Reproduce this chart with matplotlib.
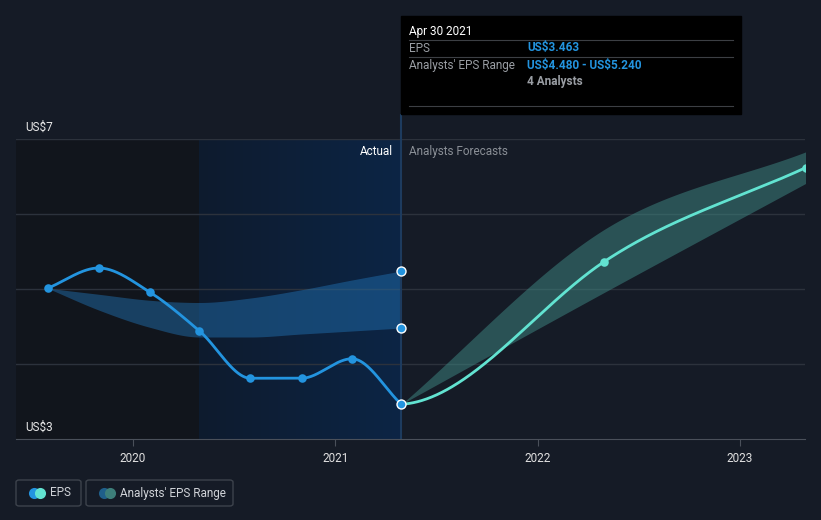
import numpy as np
import pandas as pd
import matplotlib
matplotlib.use("Agg")
import matplotlib.pyplot as plt
from matplotlib.patches import FancyBboxPatch, Rectangle

plt.rcParams['font.family'] = ['Roboto', 'DejaVu Sans']

# data
eps_dates = ["2019-07-31", "2019-10-31", "2020-01-31", "2020-04-30",
             "2020-07-31", "2020-10-31", "2021-01-31", "2021-04-30"]
eps_values = [5.01, 5.28, 4.96, 4.44, 3.81, 3.81, 4.07, 3.463]

past_range_high = [5.01, 4.93, 4.85, 4.82, 4.88, 4.99, 5.12, 5.24]
past_range_low = [5.01, 4.72, 4.49, 4.36, 4.36, 4.40, 4.44, 4.48]

fc_dates = ["2021-04-30", "2022-04-30", "2023-04-30"]
fc_values = [3.463, 5.36, 6.62]
fc_high = [3.463, 5.79, 6.83]
fc_low = [3.463, 4.95, 6.41]

ytick_labels = ["US$3", "US$7"]
xtick_years = [2020, 2021, 2022, 2023]

BG = "#151b26"
BLUE = "#2394df"
TEAL = "#62e3d1"


def to_year(dates):
    d = pd.to_datetime(dates)
    return np.array(d.year + (d.dayofyear - 1) / 365.0)


def hermite(x, y, m, n=200):
    xs, ys = [], []
    for i in range(len(x) - 1):
        h = x[i + 1] - x[i]
        t = np.linspace(0, 1, n)
        h00 = 2 * t**3 - 3 * t**2 + 1
        h10 = t**3 - 2 * t**2 + t
        h01 = -2 * t**3 + 3 * t**2
        h11 = t**3 - t**2
        xs.append(x[i] + t * h)
        ys.append(h00 * y[i] + h10 * h * m[i] + h01 * y[i + 1] + h11 * h * m[i + 1])
    return np.concatenate(xs), np.concatenate(ys)


def monotone(x, y, n=200):
    # monotone cubic, roughly what the web chart uses
    x = np.asarray(x, float)
    y = np.asarray(y, float)
    h = np.diff(x)
    s = np.diff(y) / h
    m = np.zeros_like(y)
    m[0], m[-1] = s[0], s[-1]
    for i in range(1, len(y) - 1):
        if s[i - 1] * s[i] <= 0:
            m[i] = 0
        else:
            m[i] = (s[i - 1] * h[i] + s[i] * h[i - 1]) / (h[i - 1] + h[i])
            lim = 3 * min(abs(s[i - 1]), abs(s[i]))
            m[i] = np.sign(m[i]) * min(abs(m[i]), lim)
    return hermite(x, y, m, n)


ex = to_year(eps_dates)
fx = to_year(fc_dates)
now = ex[-1]

fig = plt.figure(figsize=(8.21, 5.2), dpi=100, facecolor=BG)
ax = fig.add_axes([16 / 821, 81 / 520, 789 / 821, 300 / 520])
ax.set_facecolor(BG)
xmin, xmax = 2019.422, 2023.321
ax.set_xlim(xmin, xmax)
ax.set_ylim(3, 7)

# shaded past regions
ax.add_patch(Rectangle((xmin, 3), ex[3] - xmin, 4, color="#11151c", zorder=0, lw=0))
grad = np.linspace(0, 1, 256).reshape(1, -1)
cmap = matplotlib.colors.LinearSegmentedColormap.from_list("g", ["#0e1b2e", "#0c2545"])
ax.imshow(grad, extent=(ex[3], now, 3, 7), aspect="auto", cmap=cmap, zorder=0.5)

for v in [4, 5, 6, 7]:
    ax.axhline(v, color="#2c323c", lw=1, zorder=1)

# past range band
bx, bh = monotone(ex, past_range_high)
_, bl = monotone(ex, past_range_low)
ax.fill_between(bx, bl, bh, color="#2275b8", alpha=0.45, lw=0, zorder=2)

# forecast band
fbx, fbh = monotone(fx, fc_high)
_, fbl = monotone(fx, fc_low)
ax.fill_between(fbx, fbl, fbh, color="#3f8a85", alpha=0.5, lw=0, zorder=2)

# now line
ax.plot([now, now], [3, 7.32], color="#1d3b5e", lw=1.5, zorder=2, clip_on=False)

# lines
lx, ly = monotone(ex, eps_values)
ax.plot(lx, ly, color=BLUE, lw=2.0, zorder=4)
fxx, fyy = hermite(fx, fc_values, [0.15, 1.8, 1.25])
ax.plot(fxx, fyy, color=TEAL, lw=2.0, zorder=4)
ax.scatter(ex[:-1], eps_values[:-1], s=38, color=BLUE, zorder=5, lw=0)
ax.scatter(fx[1:], fc_values[1:], s=38, color=TEAL, zorder=5, lw=0)
ax.scatter([now, now, now], [eps_values[-1], past_range_low[-1], past_range_high[-1]],
           s=42, color=BLUE, edgecolor="white", lw=1, zorder=6)

for s in ["top", "right", "left"]:
    ax.spines[s].set_visible(False)
ax.spines["bottom"].set_color("#4a505a")
ax.set_yticks([])
ax.set_xticks(xtick_years)
ax.set_xticklabels([str(y) for y in xtick_years], color="#e0e0e0", fontsize=8.5)
ax.tick_params(axis="x", length=5, color="#4a505a", pad=4)

fig.text(25 / 821, 1 - 127 / 520, ytick_labels[1].replace("$", r"\$"), color="#e8e8e8",
         fontsize=8.5, va="center")
fig.text(25 / 821, 1 - 427 / 520, ytick_labels[0].replace("$", r"\$"), color="#e8e8e8",
         fontsize=8.5, va="center")
fig.text(393 / 821, 1 - 151 / 520, "Actual", color="white", fontsize=8.5, ha="right", va="center")
fig.text(409 / 821, 1 - 151 / 520, "Analysts Forecasts", color="#8a8f96", fontsize=8.5, va="center")

# tooltip
fig.patches.append(Rectangle((401 / 821, 1 - 114 / 520), 340 / 821, 98 / 520,
                             transform=fig.transFigure, color="black", zorder=5))
for yy in [40, 57, 106]:
    fig.add_artist(plt.Line2D([409 / 821, 733 / 821], [1 - yy / 520] * 2, color="#3c3f44", lw=0.8, zorder=6))
fig.text(409 / 821, 1 - 31 / 520, "Apr 30 2021", color="white", fontsize=8.5, va="center", zorder=7)
fig.text(409 / 821, 1 - 48 / 520, "EPS", color="#9a9ea4", fontsize=8.5, va="center", zorder=7)
fig.text(527 / 821, 1 - 48 / 520, r"US\$%.3f" % eps_values[-1], color=BLUE, fontsize=8.5,
         va="center", weight="bold", zorder=7)
fig.text(409 / 821, 1 - 65 / 520, "Analysts' EPS Range", color="#9a9ea4", fontsize=8.5, va="center", zorder=7)
fig.text(527 / 821, 1 - 65 / 520, r"US\$%.3f - US\$%.3f" % (past_range_low[-1], past_range_high[-1]),
         color=BLUE, fontsize=8.5, va="center", weight="bold", zorder=7)
fig.text(527 / 821, 1 - 81 / 520, "4 Analysts", color="#9a9ea4", fontsize=8.5, va="center",
         weight="bold", zorder=7)


# legend
def legend_box(x0, w, label, c1, c2):
    fig.patches.append(FancyBboxPatch((x0 / 821, 1 - 506 / 520), w / 821, 26 / 520,
                                      boxstyle="round,pad=0,rounding_size=0.004",
                                      transform=fig.transFigure, facecolor="none",
                                      edgecolor="#3d434c", lw=1))
    fig.add_artist(plt.Line2D([(x0 + 18) / 821], [1 - 493 / 520], marker="o", ms=8,
                              color=c1, mec="none"))
    fig.add_artist(plt.Line2D([(x0 + 24) / 821], [1 - 493 / 520], marker="o", ms=8,
                              color=c2, mec="none"))
    fig.text((x0 + 34) / 821, 1 - 493 / 520, label, color="#d0d3d8", fontsize=8.5, va="center")


legend_box(16, 65, "EPS", BLUE, TEAL)
legend_box(86, 147, "Analysts' EPS Range", "#1f5f8a", "#3d7f7a")

fig.savefig("out.png", dpi=100, facecolor=BG)
